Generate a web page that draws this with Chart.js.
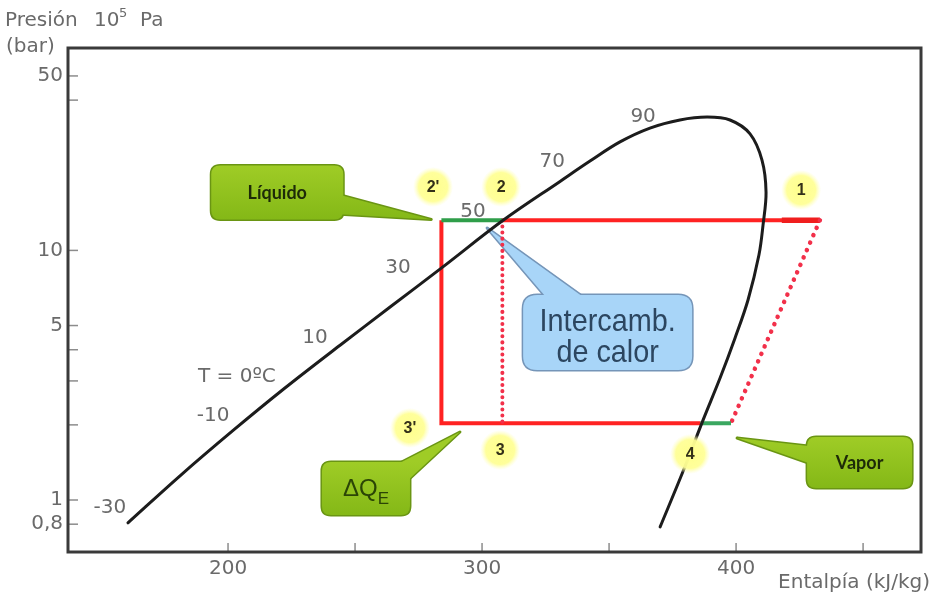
<!DOCTYPE html>
<html>
<head>
<meta charset="utf-8">
<script src="https://cdn.jsdelivr.net/npm/chart.js@4.4.0/dist/chart.umd.min.js"></script>
<style>
  html, body { margin: 0; padding: 0; background: #ffffff; }
  canvas { display: block; }
</style>
</head>
<body>
<canvas id="ph" width="932" height="596"></canvas>
<script>
// Saturation dome: enthalpy (kJ/kg) and pressure (bar)
const domeH = [160.6, 181.1, 202.0, 222.4, 244.1, 263.8, 284.2, 308.3, 330.7, 342.5, 354.3, 366.1, 377.9, 388.6,
               397.6, 405.5, 410.2, 411.8, 410.6, 409.0, 404.7, 399.6, 393.7, 387.0, 379.1, 370.1];
const domeP = [0.81, 1.25, 1.90, 2.81, 4.17, 5.93, 8.53, 13.2, 18.9, 22.8, 27.2, 30.9, 33.3, 34.2,
               33.3, 29.3, 23.0, 17.1, 12.6, 9.58, 6.33, 4.46, 3.08, 2.09, 1.30, 0.78];

// Refrigeration cycle: pressure levels (bar) and state enthalpies (kJ/kg)
const pHigh = 13.2;
const pLow = 2.03;
const h2p = 284;   // 2'
const h2 = 308;    // 2
const h1 = 433;    // 1
const h1a = 418;
const h4 = 386;    // 4
const h4p = 398;

// Axis ticks
const xTicks = [200, 250, 300, 350, 400, 450];
const xTickLabels = ['200', '', '300', '', '400', ''];
const yTicks = [0.8, 1, 2, 3, 4, 5, 10, 40, 50];
const yTickLabels = ['0,8', '1', '', '', '', '5', '10', '', '50'];

// Isotherm labels along the saturated-liquid line
const isoText = ['-30', '-10', 'T = 0ºC', '10', '30', '50', '70', '90'];
const isoH = [153.5, 194.1, 203.5, 234.2, 266.9, 296.4, 327.6, 363.4];
const isoP = [0.929, 2.17, 3.11, 4.46, 8.50, 14.25, 22.6, 34.2];

// State point markers
const stateText = ['1', "2'", '2', "3'", '3', '4'];
const stateH = [425.6, 280.7, 307.5, 271.6, 307.1, 381.9];
const stateP = [17.46, 17.95, 17.95, 1.943, 1.586, 1.529];

// Callouts: tip at (h, p); box and tail offsets in pixels from the tip
const callouts = [
  { kind: 'green', text: 'Líquido', h: 280, p: 13.3, box: [-220, -54, 132, 54], tail: [[-104, -28], [-104, -6]] },
  { kind: 'green', text: 'Vapor', h: 400.4, p: 1.772, box: [70, -1, 105, 51], tail: [[80, 9], [80, 28]] },
  { kind: 'dq', text: 'ΔQ', sub: 'E', h: 291.3, p: 1.873, box: [-138, 30, 88, 53], tail: [[-70, 36], [-56, 52]] },
  { kind: 'blue', lines: ['Intercamb.', 'de calor'], h: 302, p: 12.3, box: [36, 67, 169, 75], tail: [[63, 74], [103, 74]] }
];

const pts = (hs, ps) => hs.map((h, i) => ({ x: h, y: ps[i] }));
const seg = (a, b) => [a, b];

const RED = '#ff2222';
const GREEN = '#2f9e4a';
const GREY = '#6a6a6a';
const FONT = '"DejaVu Sans", "Liberation Sans", sans-serif';

function rrPath(ctx, x, y, w, h, r) {
  ctx.beginPath();
  ctx.moveTo(x + r, y);
  ctx.lineTo(x + w - r, y);
  ctx.quadraticCurveTo(x + w, y, x + w, y + r);
  ctx.lineTo(x + w, y + h - r);
  ctx.quadraticCurveTo(x + w, y + h, x + w - r, y + h);
  ctx.lineTo(x + r, y + h);
  ctx.quadraticCurveTo(x, y + h, x, y + h - r);
  ctx.lineTo(x, y + r);
  ctx.quadraticCurveTo(x, y, x + r, y);
  ctx.closePath();
}

function tailPath(ctx, tx, ty, t) {
  ctx.beginPath();
  ctx.moveTo(tx, ty);
  ctx.lineTo(tx + t[0][0], ty + t[0][1]);
  ctx.lineTo(tx + t[1][0], ty + t[1][1]);
  ctx.closePath();
}

function drawCallout(ctx, chart, c) {
  const tx = chart.scales.x.getPixelForValue(c.h);
  const ty = chart.scales.y.getPixelForValue(c.p);
  const [bx, by, bw, bh] = c.box;
  const x = tx + bx, y = ty + by;
  let fill, stroke, r;
  if (c.kind === 'blue') {
    fill = '#a8d5f8'; stroke = '#7595b8'; r = 14;
  } else {
    const g = ctx.createLinearGradient(0, y, 0, y + bh);
    g.addColorStop(0, '#9fcc26');
    g.addColorStop(1, '#84b817');
    fill = g; stroke = '#6a9513'; r = 9;
  }
  ctx.save();
  ctx.lineJoin = 'round';
  ctx.lineWidth = 3;
  ctx.strokeStyle = stroke;
  rrPath(ctx, x, y, bw, bh, r); ctx.stroke();
  tailPath(ctx, tx, ty, c.tail); ctx.stroke();
  ctx.fillStyle = fill;
  rrPath(ctx, x, y, bw, bh, r); ctx.fill();
  tailPath(ctx, tx, ty, c.tail); ctx.fill();

  const cx = x + bw / 2, cy = y + bh / 2;
  if (c.kind === 'green') {
    ctx.fillStyle = '#1d2a08';
    ctx.font = 'bold 18px Lato, "Liberation Sans", sans-serif';
    ctx.textAlign = 'center';
    ctx.textBaseline = 'middle';
    ctx.fillText(c.text, cx, cy + 1);
  } else if (c.kind === 'dq') {
    ctx.fillStyle = '#2b4506';
    ctx.textBaseline = 'alphabetic';
    ctx.textAlign = 'left';
    ctx.font = '24px "Liberation Sans", sans-serif';
    const w1 = ctx.measureText(c.text).width;
    ctx.font = '17px "Liberation Sans", sans-serif';
    const w2 = ctx.measureText(c.sub).width;
    const sx = cx - (w1 + w2) / 2;
    ctx.font = '24px "Liberation Sans", sans-serif';
    ctx.fillText(c.text, sx, cy + 8);
    ctx.font = '17px "Liberation Sans", sans-serif';
    ctx.fillText(c.sub, sx + w1, cy + 16);
  } else {
    ctx.fillStyle = '#2c4660';
    ctx.textAlign = 'center';
    ctx.textBaseline = 'alphabetic';
    ctx.font = '32px "Liberation Sans", sans-serif';
    c.lines.forEach((line, i) => {
      ctx.save();
      ctx.translate(cx, y + 36 + i * 31);
      ctx.scale(0.9, 1);
      ctx.fillText(line, 0, 0);
      ctx.restore();
    });
  }
  ctx.restore();
}

const decorations = {
  id: 'phDecorations',
  beforeDatasetsDraw(chart) {
    const ctx = chart.ctx;
    callouts.filter(c => c.kind === 'blue').forEach(c => drawCallout(ctx, chart, c));
  },
  afterDatasetsDraw(chart) {
    const ctx = chart.ctx;
    const xs = chart.scales.x, ys = chart.scales.y;
    callouts.filter(c => c.kind !== 'blue').forEach(c => drawCallout(ctx, chart, c));

    // isotherm labels
    ctx.save();
    ctx.fillStyle = GREY;
    ctx.font = '20px ' + FONT;
    ctx.textAlign = 'center';
    ctx.textBaseline = 'middle';
    isoText.forEach((t, i) => {
      ctx.fillText(t, xs.getPixelForValue(isoH[i]), ys.getPixelForValue(isoP[i]));
    });
    ctx.restore();

    // state markers
    ctx.save();
    stateText.forEach((t, i) => {
      const x = xs.getPixelForValue(stateH[i]);
      const y = ys.getPixelForValue(stateP[i]);
      const g = ctx.createRadialGradient(x, y, 0, x, y, 20);
      g.addColorStop(0, 'rgba(255,255,140,1)');
      g.addColorStop(0.72, 'rgba(255,255,150,0.95)');
      g.addColorStop(1, 'rgba(255,255,190,0)');
      ctx.fillStyle = g;
      ctx.beginPath();
      ctx.arc(x, y, 20, 0, Math.PI * 2);
      ctx.fill();
      ctx.fillStyle = '#33301a';
      ctx.font = 'bold 16px "Liberation Sans", sans-serif';
      ctx.textAlign = 'center';
      ctx.textBaseline = 'middle';
      ctx.fillText(t, x, y + 1);
    });
    ctx.restore();
  },
  afterDraw(chart) {
    const ctx = chart.ctx;
    const a = chart.chartArea;
    const xs = chart.scales.x, ys = chart.scales.y;
    ctx.save();
    // inward tick marks
    ctx.strokeStyle = '#8c8c8c';
    ctx.lineWidth = 1.5;
    xs.ticks.forEach(t => {
      const x = xs.getPixelForValue(t.value);
      ctx.beginPath(); ctx.moveTo(x, a.bottom); ctx.lineTo(x, a.bottom - 9); ctx.stroke();
    });
    ys.ticks.forEach(t => {
      const y = ys.getPixelForValue(t.value);
      ctx.beginPath(); ctx.moveTo(a.left, y); ctx.lineTo(a.left + 10, y); ctx.stroke();
    });
    // frame
    ctx.strokeStyle = '#3a3a3a';
    ctx.lineWidth = 3;
    ctx.strokeRect(a.left, a.top, a.right - a.left, a.bottom - a.top);
    // axis titles
    ctx.fillStyle = GREY;
    ctx.font = '20px ' + FONT;
    ctx.textBaseline = 'alphabetic';
    ctx.textAlign = 'left';
    ctx.fillText('Presión', 5, 26);
    ctx.fillText('10', 94, 26);
    ctx.font = '13px ' + FONT;
    ctx.fillText('5', 119, 17);
    ctx.font = '20px ' + FONT;
    ctx.fillText('Pa', 140, 26);
    ctx.fillText('(bar)', 6, 52);
    ctx.textAlign = 'right';
    ctx.fillText('Entalpía (kJ/kg)', 930, 588);
    ctx.restore();
  }
};

const lineDs = (data, color, width, extra) => Object.assign({
  data, borderColor: color, borderWidth: width, showLine: true,
  pointRadius: 0, fill: false, tension: 0, borderCapStyle: 'butt'
}, extra || {});

const dottedV = { borderDash: [0.1, 6], borderCapStyle: 'round' };
const dottedD = { borderDash: [0.1, 8], borderCapStyle: 'round' };

new Chart(document.getElementById('ph'), {
  type: 'scatter',
  data: {
    datasets: [
      lineDs(pts(domeH, domeP), '#1c1c1c', 3, { tension: 0.35, borderCapStyle: 'round' }),
      lineDs(seg({ x: h2p, y: pHigh }, { x: h2, y: pHigh }), GREEN, 4),
      lineDs(seg({ x: h4, y: pLow }, { x: h4p, y: pLow }), '#3aa760', 4),
      lineDs(seg({ x: h2, y: pHigh }, { x: h2, y: pLow }), '#f2304a', 4, dottedV),
      lineDs(seg({ x: h1, y: pHigh }, { x: h4p, y: pLow }), '#f2304a', 4.5, dottedD),
      lineDs(seg({ x: h1a, y: pHigh }, { x: h1, y: pHigh }), '#f01e1e', 5.5),
      lineDs(seg({ x: h2, y: pHigh }, { x: h1, y: pHigh }), RED, 4),
      lineDs([{ x: h2p, y: pHigh }, { x: h2p, y: pLow }, { x: h4, y: pLow }], RED, 4)
    ]
  },
  options: {
    responsive: false,
    animation: false,
    devicePixelRatio: 1,
    layout: { padding: { left: 0, top: 48, right: 11, bottom: 0 } },
    plugins: { legend: { display: false }, tooltip: { enabled: false } },
    scales: {
      x: {
        type: 'linear',
        min: 137,
        max: 472.8,
        bounds: 'data',
        grid: { display: false, drawTicks: false },
        border: { display: false },
        afterBuildTicks: s => { s.ticks = xTicks.map(v => ({ value: v })); },
        afterFit: s => { s.height = 44; },
        ticks: {
          padding: 5,
          autoSkip: false,
          maxRotation: 0,
          color: GREY,
          font: { family: 'DejaVu Sans', size: 20 },
          callback: (v) => xTickLabels[xTicks.indexOf(v)] ?? ''
        }
      },
      y: {
        type: 'logarithmic',
        min: 0.619,
        max: 64.7,
        bounds: 'data',
        grid: { display: false, drawTicks: false },
        border: { display: false },
        afterBuildTicks: s => { s.ticks = yTicks.map(v => ({ value: v })); },
        afterFit: s => { s.width = 68; },
        ticks: {
          padding: 5,
          autoSkip: false,
          color: GREY,
          font: { family: 'DejaVu Sans', size: 20 },
          callback: (v) => {
            const i = yTicks.findIndex(t => Math.abs(t - v) < 1e-6);
            return i >= 0 ? yTickLabels[i] : '';
          }
        }
      }
    }
  },
  plugins: [decorations]
});
</script>
</body>
</html>
